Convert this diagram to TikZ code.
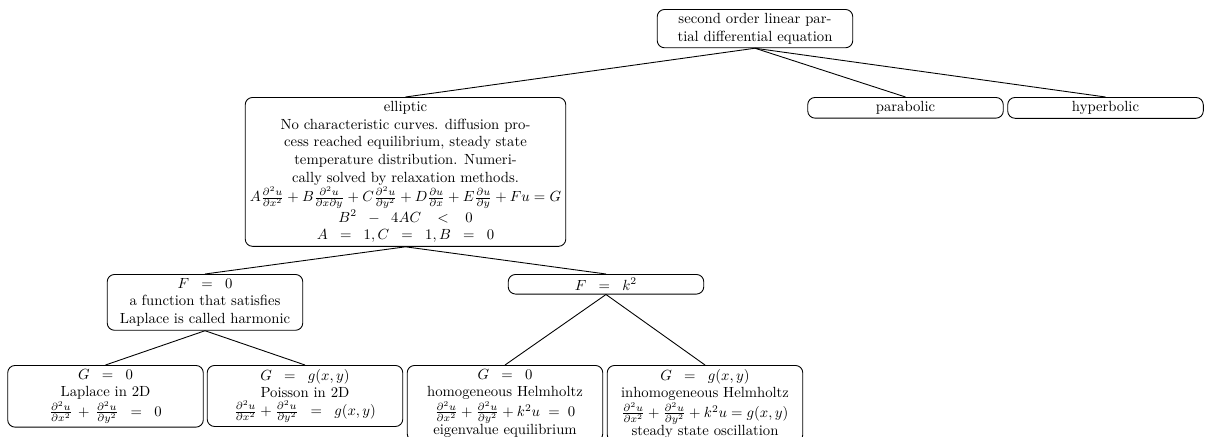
\documentclass[tikz,border=0pt]{standalone}
\usepackage{amsmath}
\begin{document}
\begin{tikzpicture}[x=0.68pt,y=-0.68pt,
  box/.style={draw, rounded corners=5pt, line width=0.6pt, align=center, anchor=north, inner xsep=3pt, inner ysep=2.6pt, minimum width=133pt},
  edge/.style={line width=0.6pt}]
\useasboundingbox (0,0) rectangle (1209,436);
\node[box] (root) at (755,9) {second order linear par-\\tial differential equation};
\node[box, minimum width=218pt] (ell) at (405.5,97) {elliptic\\
No characteristic curves. diffusion pro-\\
cess reached equilibrium, steady state\\
temperature distribution. Numeri-\\
cally solved by relaxation methods.\\
$A\frac{\partial^2u}{\partial x^2}+B\frac{\partial^2u}{\partial x\partial y}+C\frac{\partial^2u}{\partial y^2}+D\frac{\partial u}{\partial x}+E\frac{\partial u}{\partial y}+Fu=G$\\
$B^2\;\;-\;\;4AC\;\;\;<\;\;\;0$\\
$A\;\;=\;\;1, C\;\;=\;\;1, B\;\;=\;\;0$};
\node[box] (para) at (905.5,97) {parabolic};
\node[box] (hyp) at (1105.5,97) {hyperbolic};
\node[box] (f0) at (205,274) {$F\;\;=\;\;0$\\a function that satisfies\\Laplace is called harmonic};
\node[box] (fk) at (606,274) {$F\;\;=\;\;k^2$};
\node[box] (l1) at (105.5,365) {$G\;\;=\;\;0$\\Laplace in 2D\\$\frac{\partial^2u}{\partial x^2}\,+\,\frac{\partial^2u}{\partial y^2}\;\;=\;\;0$};
\node[box] (l2) at (305,365) {$G\;\;=\;\;g(x,y)$\\Poisson in 2D\\$\frac{\partial^2u}{\partial x^2}+\frac{\partial^2u}{\partial y^2}\;\;=\;\;g(x,y)$};
\node[box] (l3) at (505,365) {$G\;\;=\;\;0$\\homogeneous Helmholtz\\$\frac{\partial^2u}{\partial x^2}+\frac{\partial^2u}{\partial y^2}+k^2u\;=\;0$\\eigenvalue equilibrium};
\node[box] (l4) at (705,365) {$G\;\;=\;\;g(x,y)$\\inhomogeneous Helmholtz\\$\frac{\partial^2u}{\partial x^2}+\frac{\partial^2u}{\partial y^2}+k^2u=g(x,y)$\\steady state oscillation};
\draw[edge] (root.south) -- (ell.north);
\draw[edge] (root.south) -- (para.north);
\draw[edge] (root.south) -- (hyp.north);
\draw[edge] (ell.south) -- (f0.north);
\draw[edge] (ell.south) -- (fk.north);
\draw[edge] (f0.south) -- (l1.north);
\draw[edge] (f0.south) -- (l2.north);
\draw[edge] (fk.south) -- (l3.north);
\draw[edge] (fk.south) -- (l4.north);
\end{tikzpicture}
\end{document}
